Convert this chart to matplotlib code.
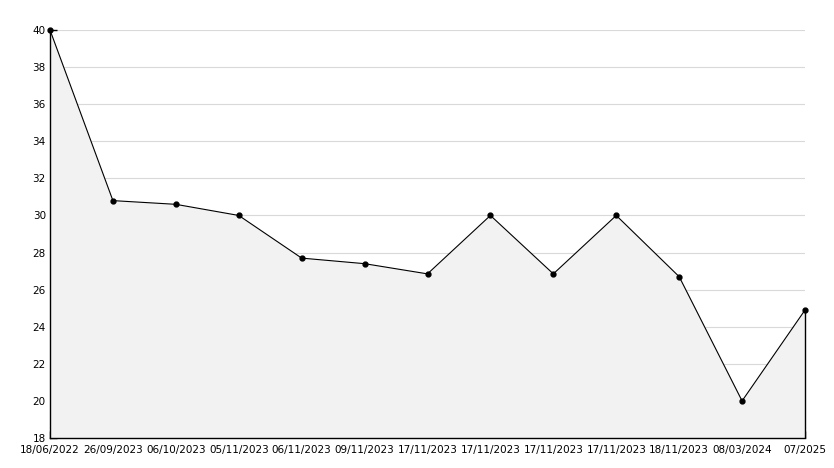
import matplotlib
matplotlib.use("Agg")
import matplotlib.pyplot as plt
from matplotlib.ticker import MultipleLocator

datas = ["18/06/2022", "26/09/2023", "06/10/2023", "05/11/2023", "06/11/2023",
         "09/11/2023", "17/11/2023", "17/11/2023", "17/11/2023", "17/11/2023",
         "18/11/2023", "08/03/2024", "07/2025"]
valores = [40, 30.8, 30.6, 30, 27.7, 27.4, 26.85, 30, 26.85, 30, 26.7, 20, 24.9]
y_min, y_max = 18, 40

x = list(range(len(valores)))

fig = plt.figure(figsize=(8.34, 4.68), dpi=100)
ax = fig.add_axes([50/834, 1 - 438/468, 755/834, 408/468])

ax.fill_between(x, valores, y_min, color="#f2f2f2", linewidth=0, zorder=1)
ax.plot(x, valores, color="black", linewidth=0.8, marker="o", markersize=3.5, zorder=3, clip_on=False)
ax.vlines(x[-1], y_min, valores[-1], color="black", linewidth=1, zorder=2, clip_on=False)

ax.set_xlim(x[0], x[-1])
ax.set_ylim(y_min, y_max)
ax.set_xticks(x)
ax.set_xticklabels(datas)
ax.yaxis.set_major_locator(MultipleLocator(2))
ax.yaxis.set_minor_locator(MultipleLocator(1))
ax.grid(axis="y", which="major", color="#d9d9d9", linewidth=0.8, zorder=0)
ax.set_axisbelow(True)

for s in ["top", "right"]:
    ax.spines[s].set_visible(False)
for s in ["left", "bottom"]:
    ax.spines[s].set_linewidth(1)
    ax.spines[s].set_zorder(4)

ax.tick_params(axis="both", which="both", direction="in", labelsize=7.5, colors="black")
ax.tick_params(axis="both", which="major", length=5, width=1, pad=3)
ax.tick_params(axis="x", which="major", pad=5)
ax.tick_params(axis="y", which="minor", length=4, width=1)

fig.savefig("out.png", dpi=100)
